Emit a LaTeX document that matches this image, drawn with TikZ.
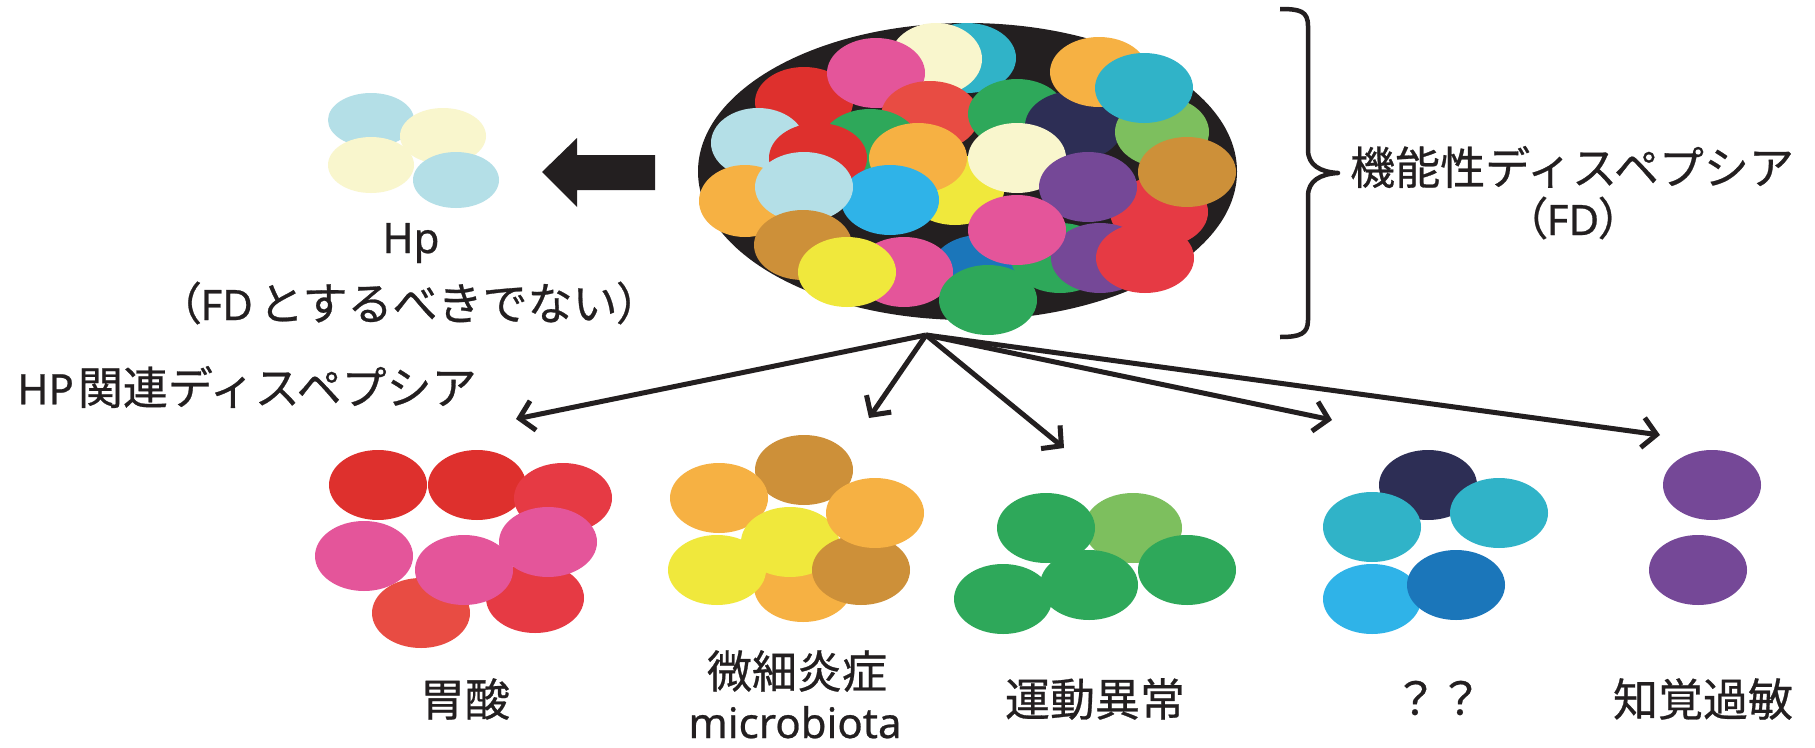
\documentclass[tikz,border=0pt]{standalone}
\usepackage{fontspec}
\setmainfont{Noto Sans CJK JP}[FakeBold=0.6]
\newfontfamily\paltfont{Noto Sans CJK JP}[RawFeature=+palt,FakeBold=0.6]
\newfontfamily\latfont{Noto Sans}[FakeBold=0.6]
\usetikzlibrary{arrows.meta}
\definecolor{cRed}{HTML}{DE302D}
\definecolor{cRedB}{HTML}{E63A44}
\definecolor{cRedL}{HTML}{E84C43}
\definecolor{cPink}{HTML}{E4559A}
\definecolor{cCream}{HTML}{F9F6CD}
\definecolor{cCyan}{HTML}{30B3C8}
\definecolor{cGreen}{HTML}{2EA85A}
\definecolor{cLGreen}{HTML}{7DBF5E}
\definecolor{cLBlue}{HTML}{B4DFE7}
\definecolor{cOrange}{HTML}{F6B143}
\definecolor{cSky}{HTML}{2FB3E8}
\definecolor{cBlue}{HTML}{1B76BA}
\definecolor{cYellow}{HTML}{F0E83C}
\definecolor{cTan}{HTML}{CD9039}
\definecolor{cNavy}{HTML}{2D2E55}
\definecolor{cPurple}{HTML}{754897}
\definecolor{cInk}{HTML}{231F20}
\newcommand\myblob[3]{\fill[#1] (#2,#3) ellipse [x radius=49pt, y radius=35pt];}
\newcommand\myblobr[5]{\fill[#1] (#2,#3) ellipse [x radius=#4pt, y radius=#5pt];}
\newcommand\latn[1]{{\latfont\fontsize{42}{48}\selectfont #1}}
\newcommand\pparen[1]{{\paltfont #1}}
\begin{document}
\begin{tikzpicture}[x=1pt,y=-1pt,
  lbl/.style={font=\fontsize{45}{52}\selectfont, text=cInk, inner sep=0pt, align=center},
  conn/.style={draw=cInk, line width=5pt, -{Straight Barb[length=14pt,width=30pt]}}]
\useasboundingbox (0,0) rectangle (1815,747);
\fill[white] (0,0) rectangle (1815,747);

% big FD cluster
\fill[cInk] (967.5,171.5) ellipse [x radius=269.5pt, y radius=148.5pt];
\myblob{cCyan}{967}{58}
\myblobr{cCream}{936}{59}{46}{36}
\myblob{cRed}{804}{102}
\myblob{cPink}{876}{73}
\myblob{cRedL}{930}{116}
\myblob{cGreen}{1017}{114}
\myblob{cNavy}{1074}{126}
\myblob{cOrange}{1099}{72}
\myblobr{cLGreen}{1162}{132}{47}{35}
\myblob{cCyan}{1144}{88}
\myblob{cGreen}{870}{144}
\myblobr{cLBlue}{758}{143}{47}{35}
\myblob{cRed}{818}{158}
\myblob{cYellow}{955}{190}
\myblob{cCream}{1017}{158}
\myblob{cOrange}{918}{158}
\myblob{cSky}{890}{200}
\myblobr{cOrange}{745}{201}{46}{36}
\myblob{cLBlue}{804}{187}
\myblob{cTan}{803}{245}
\myblob{cRedB}{1159}{212}
\myblob{cTan}{1187}{172}
\myblob{cPurple}{1088}{187}
\myblob{cBlue}{980}{270}
\myblob{cGreen}{1060}{258}
\myblob{cPurple}{1100}{258}
\myblob{cRedB}{1145}{258}
\myblob{cPink}{1017}{230}
\myblob{cPink}{904}{272}
\myblob{cYellow}{847}{272}
\myblob{cGreen}{988}{300}

% Hp cluster
\myblobr{cLBlue}{371}{120}{43}{27}
\myblobr{cCream}{443}{136}{43}{28}
\myblobr{cCream}{371}{165}{43}{28}
\myblobr{cLBlue}{456}{180}{43}{28}

% big left arrow
\fill[cInk] (542,172) -- (577,138) -- (577,155) -- (655,155) -- (655,190) -- (577,190) -- (577,207) -- cycle;

% brace
\draw[cInk, line width=4.5pt, line join=round]
  (1280,9) .. controls (1300,9) and (1308,11) .. (1308,26) -- (1308,150)
  .. controls (1308,165) and (1320,172) .. (1338,173)
  .. controls (1320,174) and (1308,181) .. (1308,196) -- (1308,320)
  .. controls (1308,334) and (1300,337) .. (1280,337);

% bottom cluster 1
\myblob{cRed}{378}{485}
\myblob{cRed}{477}{485}
\myblob{cRedB}{563}{498}
\myblob{cPink}{364}{556}
\myblob{cRedL}{421}{613}
\myblob{cRedB}{535}{598}
\myblob{cPink}{464}{570}
\myblob{cPink}{548}{542}

% cluster 2
\myblob{cTan}{804}{470}
\myblob{cOrange}{719}{498}
\myblob{cOrange}{803}{587}
\myblob{cYellow}{790}{542}
\myblob{cYellow}{717}{570}
\myblob{cTan}{861}{570}
\myblob{cOrange}{875}{513}

% cluster 3
\myblob{cLGreen}{1133}{528}
\myblob{cGreen}{1046}{528}
\myblob{cGreen}{1187}{570}
\myblob{cGreen}{1003}{599}
\myblob{cGreen}{1089}{585}

% cluster 4
\myblob{cNavy}{1428}{485}
\myblob{cCyan}{1372}{527}
\myblob{cCyan}{1499}{513}
\myblob{cSky}{1372}{599}
\myblob{cBlue}{1456}{585}

% cluster 5
\myblob{cPurple}{1712}{485}
\myblob{cPurple}{1698}{570}

% texts
\node[lbl, anchor=base] (hp) at (411,253) {\latn{Hp}};
\node[lbl] (hpnot) at (409,303) {\pparen{（}\latn{FD}\hspace{6pt}とするべきでない\pparen{）}};
\node[lbl] (fd1) at (1572,167) {機能性ディスペプシア};
\node[lbl] (fd2) at (1573,218) {\pparen{（}\latn{FD}\pparen{）}};
\node[lbl] (hprel) at (247,387) {\latn{HP}\hspace{4pt}関連ディスペプシア};
\node[lbl] (t1) at (465,699) {胃酸};
\node[lbl] (t2) at (797,671) {微細炎症};
\node[lbl, anchor=base] (t2b) at (795,738) {\latn{microbiota}};
\node[lbl] (t3) at (1095,699) {運動異常};
\node[lbl] (t4) at (1438,698) {？？};
\node[lbl] (t5) at (1703,699) {知覚過敏};

% arrows
\coordinate (src) at (926,335);
\coordinate (e1) at (516,419);
\coordinate (e2) at (869,418);
\coordinate (e3) at (1064,448);
\coordinate (e4) at (1332,420);
\coordinate (e5) at (1660,435);
\draw[conn] (src) -- (e1);
\draw[conn] (src) -- (e2);
\draw[conn] (src) -- (e3);
\draw[conn] (src) -- (e4);
\draw[conn] (src) -- (e5);
\end{tikzpicture}
\end{document}
